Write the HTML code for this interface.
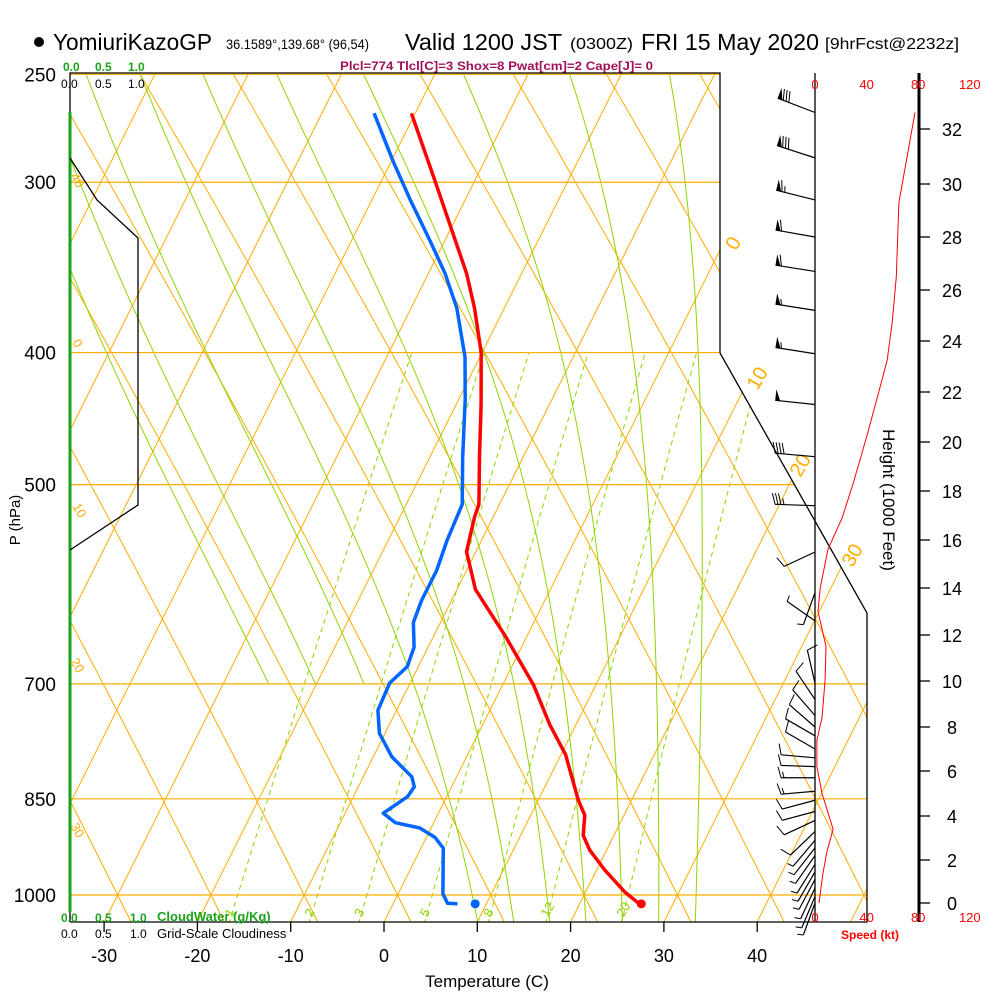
<!DOCTYPE html>
<html><head><meta charset="utf-8"><style>
html,body{margin:0;padding:0;background:#fff;}
svg{display:block;font-family:"Liberation Sans",Arial,sans-serif;}
</style></head><body>
<svg id="chart" width="1000" height="1000" viewBox="0 0 1000 1000" xmlns="http://www.w3.org/2000/svg">
<defs>
<clipPath id="plotclip"><polygon points="70,73 720,73 720,353 867,613 867,922 70,922"/></clipPath>
</defs>
<rect width="1000" height="1000" fill="#fff"/>
<g id="title">
<circle cx="39" cy="42" r="5" fill="#000"/>
<text x="53" y="50" font-size="23" textLength="159" lengthAdjust="spacingAndGlyphs">YomiuriKazoGP</text>
<text x="226" y="49" font-size="14" textLength="143" lengthAdjust="spacingAndGlyphs">36.1589°,139.68° (96,54)</text>
<text x="405" y="50" font-size="23" textLength="157" lengthAdjust="spacingAndGlyphs">Valid 1200 JST</text>
<text x="570" y="49" font-size="16" textLength="63" lengthAdjust="spacingAndGlyphs">(0300Z)</text>
<text x="641" y="50" font-size="23" textLength="178" lengthAdjust="spacingAndGlyphs">FRI 15 May 2020</text>
<text x="825" y="49" font-size="16" textLength="134" lengthAdjust="spacingAndGlyphs">[9hrFcst@2232z]</text>
</g>
<text x="340" y="70" font-size="12" font-weight="bold" fill="#a0105a" textLength="313" lengthAdjust="spacingAndGlyphs">Plcl=774 Tlcl[C]=3 Shox=8 Pwat[cm]=2 Cape[J]= 0</text>
<g id="grid" clip-path="url(#plotclip)"></g>
<g id="frame">
<polyline points="70,922 70,73 720,73 720,353 867,613 867,922 70,922" fill="none" stroke="#000" stroke-width="1.3"/>
<line x1="815" y1="73" x2="815" y2="922" stroke="#000" stroke-width="1.3"/>
<line x1="70" y1="112" x2="70" y2="912" stroke="#1aa31a" stroke-width="3"/>
<polyline points="70,158 97,200 138,238 138,505 70,550" fill="none" stroke="#000" stroke-width="1.3"/>
<line x1="919" y1="73" x2="919" y2="922" stroke="#000" stroke-width="3"/>
</g>
<g id="labels"></g>
<g id="winds"></g>
<g id="profiles"></g>
<g font-size="12">
<text x="63" y="71" fill="#1aa31a" font-weight="bold">0.0</text>
<text x="95" y="71" fill="#1aa31a" font-weight="bold">0.5</text>
<text x="128" y="71" fill="#1aa31a" font-weight="bold">1.0</text>
<text x="61" y="88" fill="#000">0.0</text>
<text x="95" y="88" fill="#000">0.5</text>
<text x="128" y="88" fill="#000">1.0</text>
<text x="61" y="922" fill="#1aa31a" font-weight="bold">0.0</text>
<text x="95" y="922" fill="#1aa31a" font-weight="bold">0.5</text>
<text x="130" y="922" fill="#1aa31a" font-weight="bold">1.0</text>
<text x="157" y="921" fill="#1aa31a" font-weight="bold" font-size="13">CloudWater (g/Kg)</text>
<text x="61" y="938" fill="#000">0.0</text>
<text x="95" y="938" fill="#000">0.5</text>
<text x="130" y="938" fill="#000">1.0</text>
<text x="157" y="938" fill="#000" font-size="13">Grid-Scale Cloudiness</text>
</g>
</svg>
<script>
// ---- data ----
var isobarLevels = [250, 300, 400, 500, 700, 850, 1000];
var tempLabels = [-30, -20, -10, 0, 10, 20, 30, 40];
var tempPres = [267, 299, 350, 371, 400, 437, 477, 517, 528, 560, 597, 645, 701, 750, 789, 852, 874, 904, 927, 959, 995, 1017];
var tempVals = [-40.4, -34.3, -25.9, -23.2, -20.1, -17.3, -14.7, -12.2, -12.0, -11.0, -8.0, -2.4, 3.3, 7.2, 10.5, 14.3, 15.8, 16.7, 18.2, 20.9, 24.2, 26.6];
var dewPres = [267, 290, 309, 331, 350, 371, 403, 433, 477, 517, 549, 578, 608, 631, 658, 680, 699, 732, 761, 792, 819, 833, 847, 871, 885, 893, 907, 924, 998, 1014, 1015];
var dewVals = [-44.4, -39.7, -35.9, -31.6, -28.2, -25.1, -21.6, -19.3, -16.5, -14.0, -13.7, -13.2, -13.2, -12.9, -11.5, -11.2, -12.2, -12.0, -10.6, -8.0, -4.8, -4.0, -4.2, -5.9, -4.1, -1.2, 0.9, 2.4, 4.8, 5.8, 6.9];
var sfcTemp = 26.6, sfcDew = 8.8, sfcPres = 1015;
var mixRatios = [1, 2, 3, 5, 8, 12, 20];
var moistThetaW = [-4, 0, 4, 8, 12, 16, 20, 24, 28, 32];
var isothermLabels = [0, 10, 20, 30];
var heightTicks = [0, 2, 4, 6, 8, 10, 12, 14, 16, 18, 20, 22, 24, 26, 28, 30, 32];
var speedTicks = [0, 40, 80, 120];
var speedHeights = [32.6, 29.3, 26.5, 24.8, 23.25, 22.1, 20.2, 18.3, 16.9, 15.6, 14.0, 13.0, 11.5, 10.05, 8.4, 7.4, 6.2, 5.0, 4.3, 3.4, 2.4, 1.4, 0];
var speedVals = [77.5, 65, 63, 60, 56, 50, 40, 29.5, 21, 10, 4, 2.3, 8.5, 7.8, 5.4, 1.5, 1.5, 5.4, 9.3, 14, 9.3, 6.2, 3.1];
var barbHeights = [32.6, 30.95, 29.4, 28.0, 26.7, 25.2, 23.5, 21.5, 19.4, 17.4, 15.5, 13.8, 12.6, 9.9, 9.2, 8.5, 8.0, 7.6, 7.0, 6.6, 6.2, 5.7, 5.1, 4.7, 4.2, 3.8, 3.3, 2.9, 2.55, 2.2, 1.8, 1.45, 1.1, 0.7, 0.3, 0];
var barbDirs = [291, 288, 284, 280, 279, 279, 279, 276, 275, 272, 245, 200, 305, 347, 326, 319, 311, 300, 300, 275, 272, 270, 265, 255, 255, 245, 226, 220, 218, 215, 212, 210, 208, 205, 203, 200];
var barbSpeeds = [80, 80, 65, 60, 60, 55, 55, 50, 40, 35, 10, 5, 5, 10, 10, 10, 10, 10, 10, 10, 10, 15, 15, 10, 10, 10, 10, 5, 5, 5, 5, 5, 5, 5, 5, 5];

// ---- axis functions (layout) ----
function yP(p){ return 895 - 592*Math.log(1000/p); }
function xT(T, y){ return 384 + 9.33*T + 0.5*(922 - y); }
var hTickY = [903, 860, 816, 771, 727, 681, 635, 588, 540, 491, 442, 392, 341, 290, 237, 184, 129];
function yH(h){
  var n = hTickY.length;
  var i = Math.min(Math.max(Math.floor(h/2), 0), n-2);
  return hTickY[i] + (hTickY[i+1]-hTickY[i])*(h - i*2)/2;
}
function xS(s){ return 815 + 1.29*s; }

var NS = "http://www.w3.org/2000/svg";
function mk(tag, parent, attrs){
  var e = document.createElementNS(NS, tag);
  for (var k in attrs) e.setAttribute(k, attrs[k]);
  parent.appendChild(e); return e;
}
function pathOf(pts){ return pts.map(function(q,i){return (i?"L":"M")+q[0].toFixed(1)+","+q[1].toFixed(1);}).join(""); }

var grid = document.getElementById("grid");
var ORANGE = "#ffad00", GREEN = "#8fd400";

// isotherms
for (var T=-120; T<=50; T+=10){
  var l = mk("line", grid, {x1:xT(T,922), y1:922, x2:xT(T,73), y2:73, stroke:ORANGE, "stroke-width":1});
  
  
}
// dry adiabats (drawn as in reference: mirrored steep lines, slightly curved)
for (var th=-60; th<=220; th+=10){
  var pts=[];
  for (var y=925; y>=70; y-=15){
    var d=895-y;
    pts.push([xT(th,895) - 0.5*d - 0.00005*d*d, y]);
  }
  var e = mk("path", grid, {d:pathOf(pts), fill:"none", stroke:ORANGE, "stroke-width":1});
  
  
}
// moist adiabats
function esat(Tc){ return 6.112*Math.exp(17.67*Tc/(Tc+243.5)); }
moistThetaW.forEach(function(tw){
  var pts=[];
  var Tk=tw+273.15, pp=1000;
  function dTdp(Tk,pp){ var es=esat(Tk-273.15); var rs=0.622*es/(pp-es);
    return (287*Tk+2.5e6*rs)/(pp*(1004+2.5e6*2.5e6*rs*0.622/(287*Tk*Tk))); }
  var startP = tw<8 ? 700 : 1060;
  while(pp<1060){ Tk += dTdp(Tk,pp)*2; pp+=2; }
  var Tk2=Tk; pp=1060;
  while(pp>=240){
    if (pp<=startP){ var y=yP(pp); pts.push([xT(Tk2-273.15,y),y]); }
    Tk2 -= dTdp(Tk2,pp)*2; pp-=2;
  }
  var e = mk("path", grid, {d:pathOf(pts), fill:"none", stroke:GREEN, "stroke-width":1});
  
  
});
// mixing ratio lines
mixRatios.forEach(function(w){
  var pts=[];
  for (var p=1050; p>=400; p-=10){
    var ev=w*p/(622+w); var a=Math.log(ev/6.112); var Td=243.5*a/(17.67-a);
    var y=yP(p); pts.push([xT(Td,y),y]);
  }
  var e = mk("path", grid, {d:pathOf(pts), fill:"none", stroke:GREEN, "stroke-width":1, "stroke-dasharray":"5,4"});
  
  
  var y0=yP(1030); var ev0=w*1030/(622+w); var a0=Math.log(ev0/6.112); var Td0=243.5*a0/(17.67-a0);
  var t = mk("text", document.getElementById("labels"), {x:xT(Td0,y0)-6, y:y0+4, "font-size":13, fill:GREEN, transform:"rotate(-60 "+(xT(Td0,y0)-2)+" "+y0+")"});
  t.textContent = w;
  
  
});
// isobars
isobarLevels.forEach(function(p){
  var y=yP(p);
  var e = mk("line", grid, {x1:70, y1:y, x2:870, y2:y, stroke:ORANGE, "stroke-width":1.2});
  
  
});

// labels
var lab = document.getElementById("labels");
isobarLevels.forEach(function(p){
  var t = mk("text", lab, {x:56, y:yP(p)+7, "font-size":19, "text-anchor":"end"});
  t.textContent = p;
  
  
});
tempLabels.forEach(function(T){
  var x=384+9.33*T;
  var tk = mk("line", lab, {x1:x, y1:922, x2:x, y2:932, stroke:"#000", "stroke-width":1.3});
  
  
  var t = mk("text", lab, {x:x, y:962, "font-size":18, "text-anchor":"middle"});
  t.textContent = T;
  
  
});
isothermLabels.forEach(function(T){
  var pos = {0:[733,243],10:[757,378],20:[800,465],30:[852,555]}[T];
  var t = mk("text", lab, {x:pos[0], y:pos[1]+7, "font-size":20, fill:ORANGE, "text-anchor":"middle", transform:"rotate(-60 "+pos[0]+" "+pos[1]+")"});
  t.textContent = T;
  
  
});
[["40",78,180],["0",78,343],["10",80,510],["20",78,665],["30",78,830]].forEach(function(d){
  var t = mk("text", lab, {x:d[1], y:d[2]+5, "font-size":13, fill:ORANGE, "text-anchor":"middle", transform:"rotate(60 "+d[1]+" "+d[2]+")"});
  t.textContent = d[0];
  
  
});
var tt = mk("text", lab, {x:487, y:987, "font-size":17, "text-anchor":"middle"});
tt.textContent = "Temperature (C)";


var pt = mk("text", lab, {x:20, y:520, "font-size":15, "text-anchor":"middle", transform:"rotate(-90 20 520)"});
pt.textContent = "P (hPa)";


heightTicks.forEach(function(h){
  var y=yH(h);
  var tk = mk("line", lab, {x1:919, y1:y, x2:930, y2:y, stroke:"#000", "stroke-width":1.3});
  
  
  var t = mk("text", lab, {x:952, y:y+7, "font-size":18, "text-anchor":"middle"});
  t.textContent = h;
  
  
});
var ht = mk("text", lab, {x:883, y:500, "font-size":17, "text-anchor":"middle", transform:"rotate(90 883 500)"});
ht.textContent = "Height (1000 Feet)";


speedTicks.forEach(function(s){
  [89, 922].forEach(function(yy){
    var t = mk("text", lab, {x:xS(s), y:yy, "font-size":13, fill:"#f00", "text-anchor":"middle"});
    t.textContent = s;
    
    
  });
});
var st = mk("text", lab, {x:870, y:939, "font-size":12, "font-weight":"bold", fill:"#f00", "text-anchor":"middle"});
st.textContent = "Speed (kt)";



// wind speed profile
var spts = speedVals.map(function(s,i){ return [xS(s), yH(speedHeights[i])]; });
var sp = mk("path", document.getElementById("profiles"), {d:pathOf(spts), fill:"none", stroke:"#f00", "stroke-width":1});



// wind barbs
var wg = document.getElementById("winds");
barbHeights.forEach(function(h,i){
  var d=barbDirs[i]*Math.PI/180, s=barbSpeeds[i];
  var bx=815, by=yH(h), L = h>17 ? 40 : 34;
  var ux=Math.sin(d), uy=-Math.cos(d);
  var fx=-uy, fy=ux;
  var tx=bx+ux*L, ty=by+uy*L;
  var g = mk("g", wg, {});
  
  
  mk("line", g, {x1:bx, y1:by, x2:tx, y2:ty, stroke:"#000", "stroke-width":1.2});
  var pos=0, rem=s;
  while(rem>=50){
    var ax=tx-ux*pos, ay=ty-uy*pos;
    var cx=tx-ux*(pos+5), cy=ty-uy*(pos+5);
    mk("polygon", g, {points:ax+","+ay+" "+(ax+fx*11)+","+(ay+fy*11)+" "+cx+","+cy, fill:"#000"});
    pos+=6; rem-=50;
  }
  if (s<50) pos=0;
  while(rem>=10){
    var ax=tx-ux*pos, ay=ty-uy*pos;
    mk("line", g, {x1:ax, y1:ay, x2:ax+fx*11+ux*3, y2:ay+fy*11+uy*3, stroke:"#000", "stroke-width":1});
    pos+=3; rem-=10;
  }
  if (rem>=5){
    var ax=tx-ux*pos, ay=ty-uy*pos;
    mk("line", g, {x1:ax, y1:ay, x2:ax+fx*6+ux*1.5, y2:ay+fy*6+uy*1.5, stroke:"#000", "stroke-width":1});
  }
});

// temperature & dewpoint
var prof = document.getElementById("profiles");
function profPts(P, V){ return P.map(function(p,i){ var y=yP(p); return [xT(V[i],y), y]; }); }
var tl = mk("path", prof, {d:pathOf(profPts(tempPres,tempVals)), fill:"none", stroke:"#f00", "stroke-width":3.5, "stroke-linejoin":"round"});


var dl = mk("path", prof, {d:pathOf(profPts(dewPres,dewVals)), fill:"none", stroke:"#0066ff", "stroke-width":3.5, "stroke-linejoin":"round"});


var ys=yP(sfcPres);
var c1 = mk("circle", prof, {cx:xT(sfcTemp,ys), cy:ys, r:4.5, fill:"#f00"});


var c2 = mk("circle", prof, {cx:xT(sfcDew,ys), cy:ys, r:4.5, fill:"#0066ff"});


</script>
</body></html>
